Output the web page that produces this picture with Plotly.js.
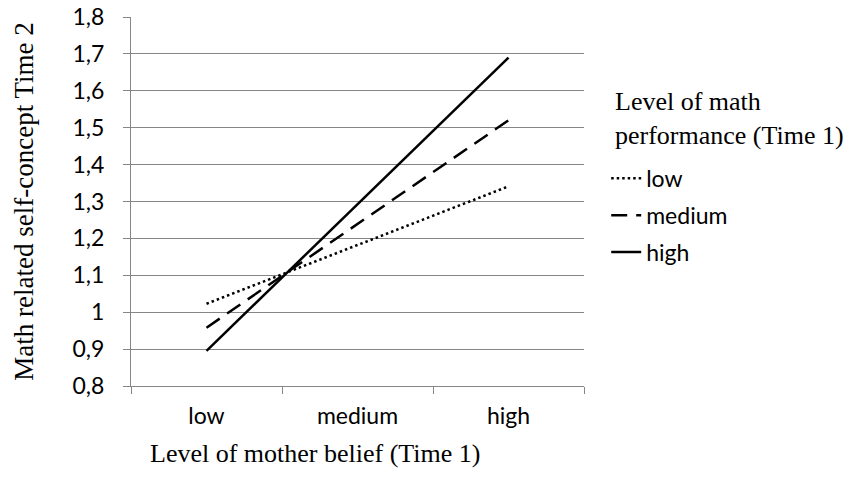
<!DOCTYPE html>
<html>
<head>
<meta charset="utf-8">
<script src="https://cdn.plot.ly/plotly-3.0.1.min.js"></script>
<style>html,body{margin:0;padding:0;background:#fff;}#chart{width:865px;height:497px;}</style>
</head>
<body>
<div id="chart"></div>
<script>
// Categories (x axis: level of mother belief, Time 1)
const categories = ['low', 'medium', 'high'];
const endpoints = ['low', 'high'];
// Series (level of math performance, Time 1)
const seriesNames = ['low', 'medium', 'high'];
const lowValues = [1.023, 1.341];
const mediumValues = [0.958, 1.52];
const highValues = [0.895, 1.69];
const yTicks = [0.8, 0.9, 1.0, 1.1, 1.2, 1.3, 1.4, 1.5, 1.6, 1.7, 1.8];

const sans = 'Lato, "Open Sans", sans-serif';
const serif = '"Liberation Serif", "DejaVu Serif", serif';

const traces = [
  {x: endpoints, y: lowValues, name: seriesNames[0], legendgroup: 'a',
   line: {color: '#000', width: 2.5, dash: '2.5px,3px'}},
  {x: endpoints, y: mediumValues, name: seriesNames[1], legendgroup: 'b',
   line: {color: '#000', width: 2.5, dash: '16px,9px'}},
  {x: endpoints, y: highValues, name: seriesNames[2], legendgroup: 'c',
   line: {color: '#000', width: 2.5}}
].map(t => Object.assign({type: 'scatter', mode: 'lines', hoverinfo: 'skip'}, t));

const layout = {
  width: 865, height: 497,
  margin: {l: 131, r: 281, t: 17, b: 111},
  paper_bgcolor: '#fff', plot_bgcolor: '#fff',
  separators: ',.',
  showlegend: true,
  legend: {
    x: 1.049, y: 0.621, xanchor: 'left', yanchor: 'top',
    traceorder: 'grouped', tracegroupgap: 4,
    font: {family: sans, size: 23, color: '#000'},
    itemwidth: 30, bgcolor: 'rgba(0,0,0,0)'
  },
  xaxis: {
    type: 'category', categoryorder: 'array', categoryarray: categories,
    range: [-0.5, 2.5], tickson: 'boundaries',
    ticks: 'outside', ticklen: 7, tickcolor: '#868686',
    showline: true, linecolor: '#868686', linewidth: 1,
    showgrid: false, zeroline: false, fixedrange: true,
    tickfont: {family: sans, size: 23, color: '#000'},
    ticklabelstandoff: 9
  },
  yaxis: {
    range: [0.8, 1.8], tickvals: yTicks,
    ticks: 'outside', ticklen: 7, tickcolor: '#868686',
    showline: true, linecolor: '#868686', linewidth: 1,
    showgrid: true, gridcolor: '#868686', gridwidth: 1,
    zeroline: false, fixedrange: true,
    tickfont: {family: sans, size: 23, color: '#000'},
    ticklabelstandoff: 14,
    title: {text: 'Math related self-concept Time 2', standoff: 31,
            font: {family: serif, size: 27, color: '#000'}}
  },
  annotations: [
    {xref: 'paper', yref: 'paper', x: (148 - 131) / 453, y: -0.184,
     xanchor: 'left', yanchor: 'middle', showarrow: false,
     text: 'Level of mother belief (Time 1)',
     font: {family: serif, size: 26, color: '#000'}},
    {xref: 'paper', yref: 'paper', x: (613 - 131) / 453, y: 0.725,
     xanchor: 'left', yanchor: 'middle', showarrow: false, align: 'left',
     text: 'Level of math<br>performance (Time 1)',
     font: {family: serif, size: 26, color: '#000'}}
  ]
};

Plotly.newPlot('chart', traces, layout, {staticPlot: true, displayModeBar: false});
</script>
</body>
</html>
